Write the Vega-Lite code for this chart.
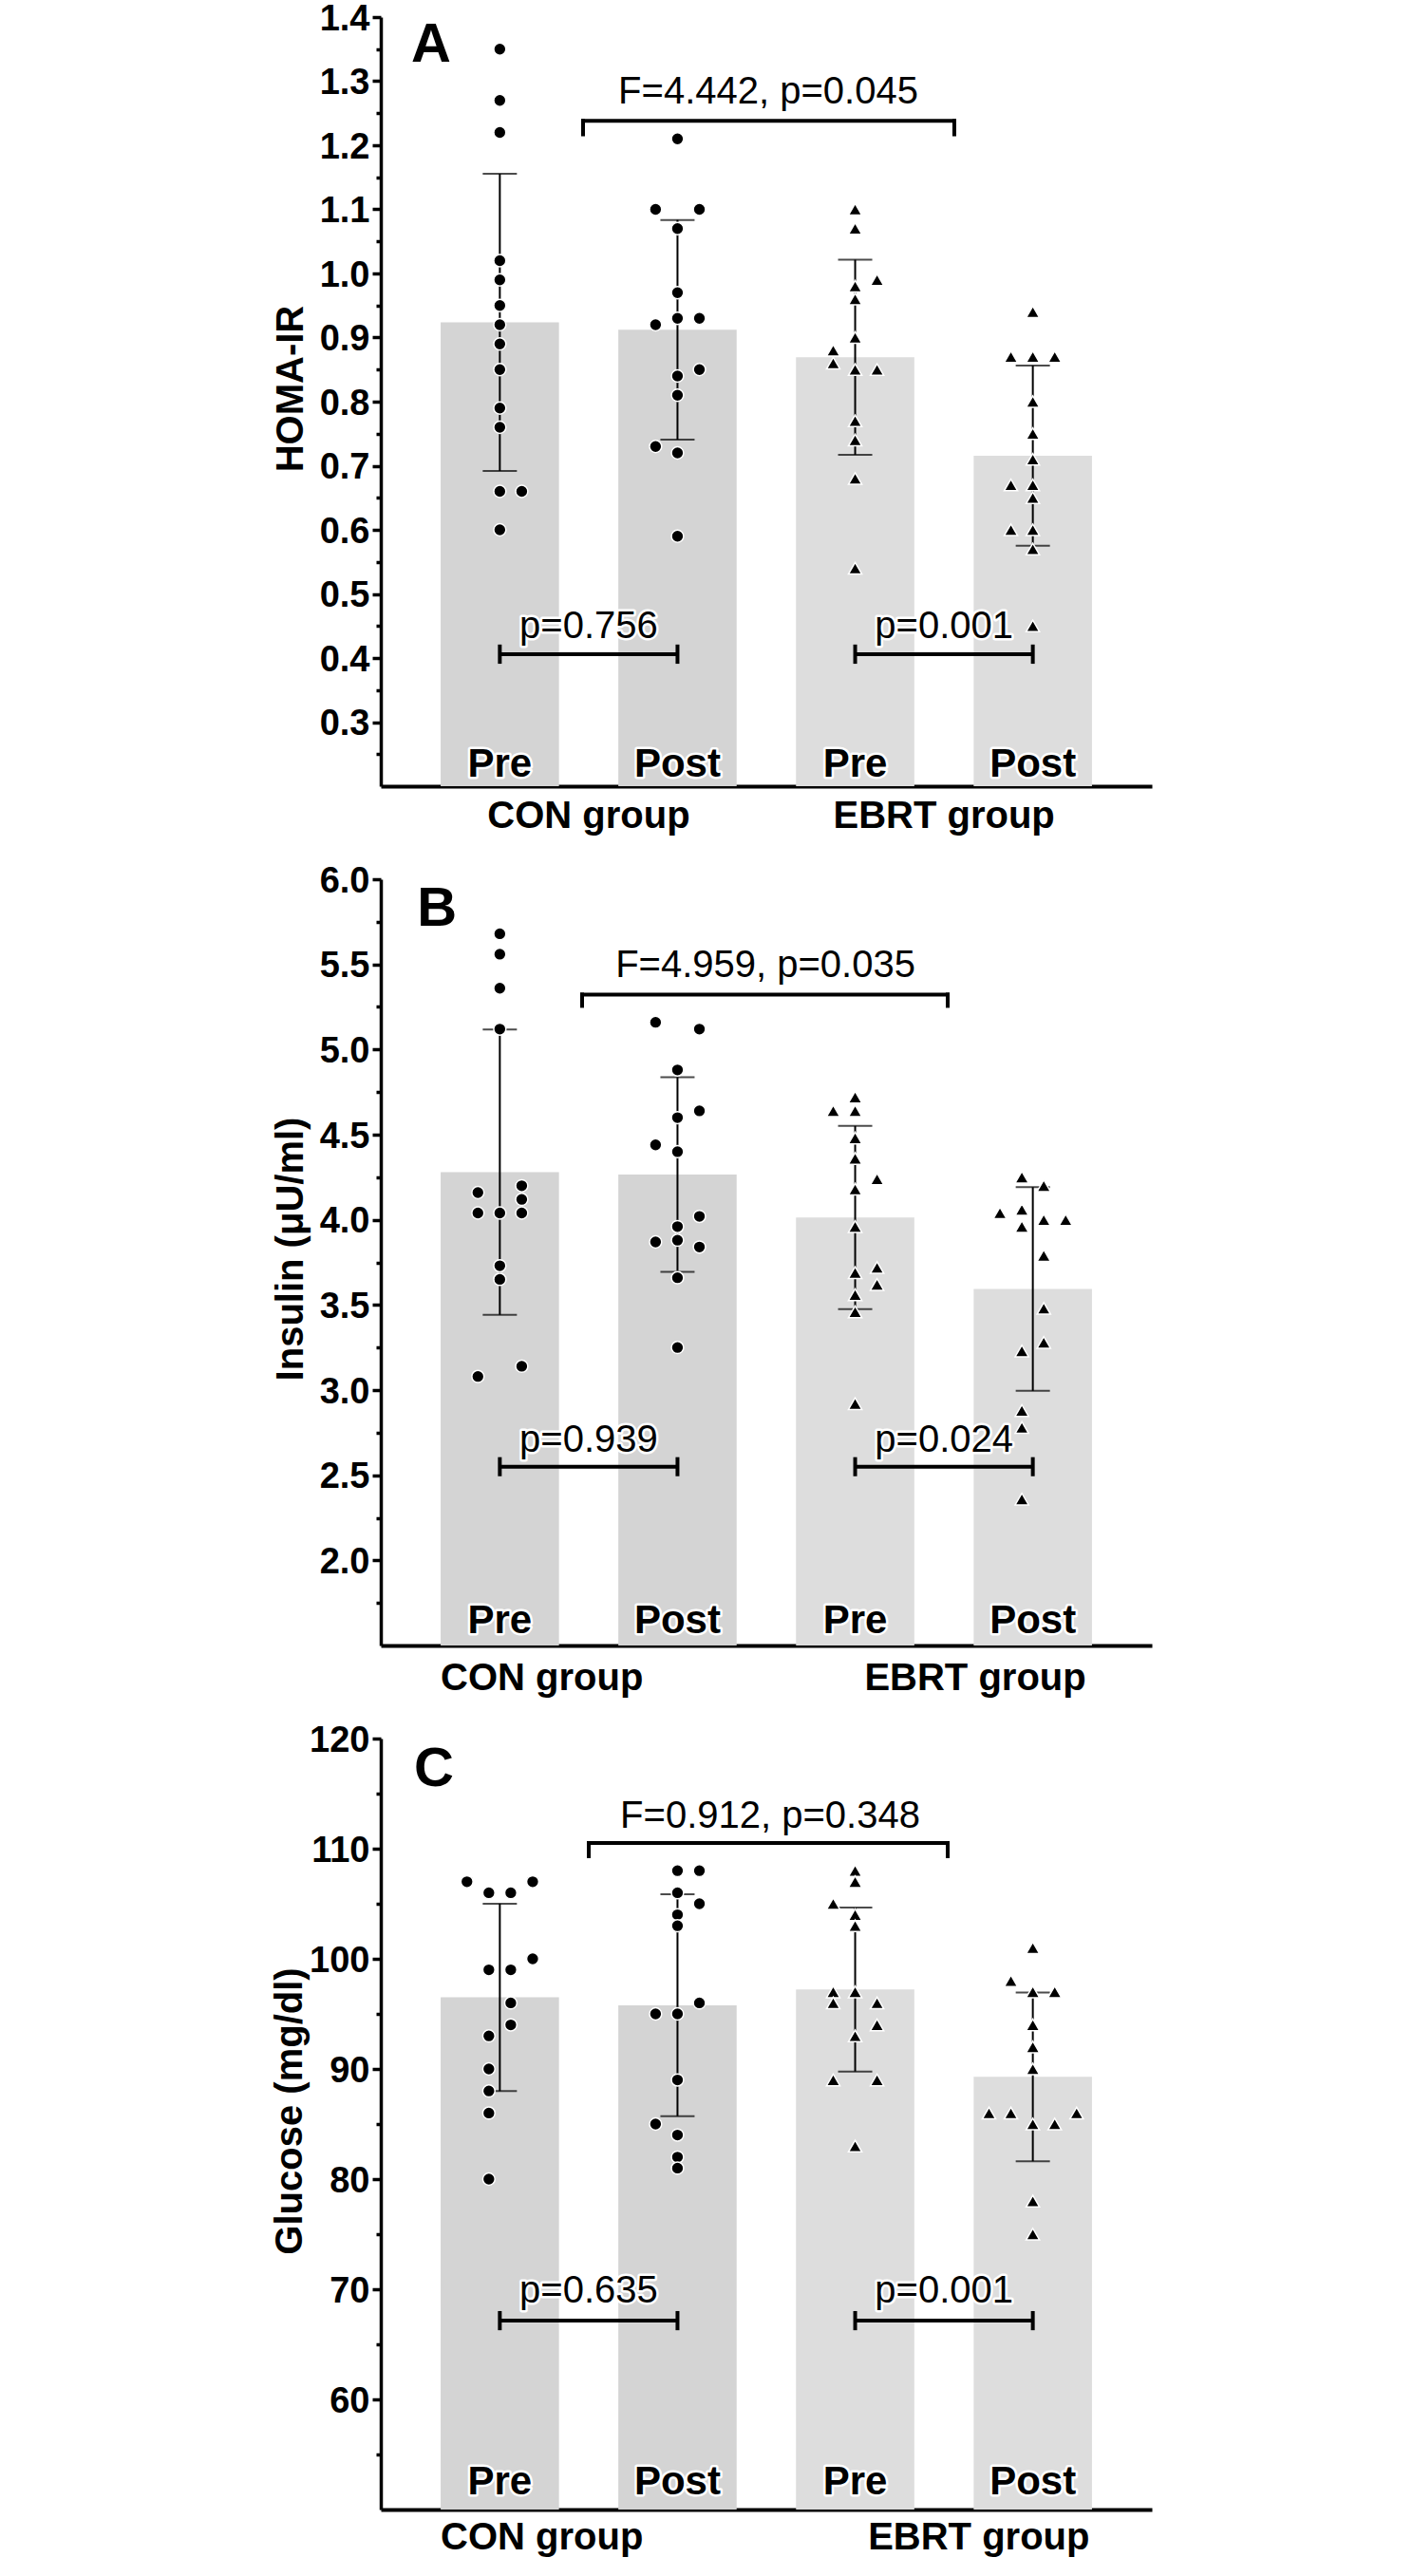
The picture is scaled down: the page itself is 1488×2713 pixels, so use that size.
{
  "$schema": "https://vega.github.io/schema/vega-lite/v6.json",
  "background": "white",
  "padding": {"left": 285, "top": 1, "right": 5, "bottom": 5},
  "config": {
    "font": "Liberation Sans",
    "view": {"stroke": null},
    "axis": {"grid": false, "domainColor": "black", "tickColor": "black", "labelColor": "black", "titleColor": "black",
      "labelFont": "Liberation Sans", "titleFont": "Liberation Sans", "labelFontSize": 38, "labelFontWeight": "bold",
      "titleFontSize": 40, "titleFontWeight": "bold", "tickWidth": 3.5, "domainWidth": 3.5, "labelPadding": 3,
      "titlePadding": 10, "labelOverlap": false, "tickCount": 60, "labelOffset": 2},
    "text": {"font": "Liberation Sans"}
  },
  "datasets": {
    "homa": [
      {"cond": "CON Pre", "v": 1.35, "lane": 0}, {"cond": "CON Pre", "v": 1.27, "lane": 0}, {"cond": "CON Pre", "v": 1.22, "lane": 0},
      {"cond": "CON Pre", "v": 1.02, "lane": 0}, {"cond": "CON Pre", "v": 0.99, "lane": 0}, {"cond": "CON Pre", "v": 0.95, "lane": 0},
      {"cond": "CON Pre", "v": 0.92, "lane": 0}, {"cond": "CON Pre", "v": 0.89, "lane": 0}, {"cond": "CON Pre", "v": 0.85, "lane": 0},
      {"cond": "CON Pre", "v": 0.79, "lane": 0}, {"cond": "CON Pre", "v": 0.76, "lane": 0}, {"cond": "CON Pre", "v": 0.66, "lane": 0},
      {"cond": "CON Pre", "v": 0.66, "lane": 1}, {"cond": "CON Pre", "v": 0.60, "lane": 0},
      {"cond": "CON Post", "v": 1.21, "lane": 0}, {"cond": "CON Post", "v": 1.10, "lane": -1}, {"cond": "CON Post", "v": 1.10, "lane": 1},
      {"cond": "CON Post", "v": 1.07, "lane": 0}, {"cond": "CON Post", "v": 0.97, "lane": 0}, {"cond": "CON Post", "v": 0.93, "lane": 0},
      {"cond": "CON Post", "v": 0.93, "lane": 1}, {"cond": "CON Post", "v": 0.92, "lane": -1}, {"cond": "CON Post", "v": 0.85, "lane": 1},
      {"cond": "CON Post", "v": 0.84, "lane": 0}, {"cond": "CON Post", "v": 0.81, "lane": 0}, {"cond": "CON Post", "v": 0.73, "lane": -1},
      {"cond": "CON Post", "v": 0.72, "lane": 0}, {"cond": "CON Post", "v": 0.59, "lane": 0},
      {"cond": "EBRT Pre", "v": 1.10, "lane": 0}, {"cond": "EBRT Pre", "v": 1.07, "lane": 0}, {"cond": "EBRT Pre", "v": 0.99, "lane": 1},
      {"cond": "EBRT Pre", "v": 0.98, "lane": 0}, {"cond": "EBRT Pre", "v": 0.96, "lane": 0}, {"cond": "EBRT Pre", "v": 0.90, "lane": 0},
      {"cond": "EBRT Pre", "v": 0.88, "lane": -1}, {"cond": "EBRT Pre", "v": 0.86, "lane": -1}, {"cond": "EBRT Pre", "v": 0.85, "lane": 0},
      {"cond": "EBRT Pre", "v": 0.85, "lane": 1}, {"cond": "EBRT Pre", "v": 0.77, "lane": 0}, {"cond": "EBRT Pre", "v": 0.74, "lane": 0},
      {"cond": "EBRT Pre", "v": 0.68, "lane": 0}, {"cond": "EBRT Pre", "v": 0.54, "lane": 0},
      {"cond": "EBRT Post", "v": 0.94, "lane": 0}, {"cond": "EBRT Post", "v": 0.87, "lane": -1}, {"cond": "EBRT Post", "v": 0.87, "lane": 0},
      {"cond": "EBRT Post", "v": 0.87, "lane": 1}, {"cond": "EBRT Post", "v": 0.80, "lane": 0}, {"cond": "EBRT Post", "v": 0.75, "lane": 0},
      {"cond": "EBRT Post", "v": 0.71, "lane": 0}, {"cond": "EBRT Post", "v": 0.67, "lane": -1}, {"cond": "EBRT Post", "v": 0.67, "lane": 0},
      {"cond": "EBRT Post", "v": 0.65, "lane": 0}, {"cond": "EBRT Post", "v": 0.60, "lane": -1}, {"cond": "EBRT Post", "v": 0.60, "lane": 0},
      {"cond": "EBRT Post", "v": 0.57, "lane": 0}, {"cond": "EBRT Post", "v": 0.45, "lane": 0}
    ],
    "ins": [
      {"cond": "CON Pre", "v": 5.68, "lane": 0}, {"cond": "CON Pre", "v": 5.56, "lane": 0}, {"cond": "CON Pre", "v": 5.36, "lane": 0},
      {"cond": "CON Pre", "v": 5.12, "lane": 0}, {"cond": "CON Pre", "v": 4.20, "lane": 1}, {"cond": "CON Pre", "v": 4.16, "lane": -1},
      {"cond": "CON Pre", "v": 4.12, "lane": 1}, {"cond": "CON Pre", "v": 4.04, "lane": -1}, {"cond": "CON Pre", "v": 4.04, "lane": 0},
      {"cond": "CON Pre", "v": 4.04, "lane": 1}, {"cond": "CON Pre", "v": 3.73, "lane": 0}, {"cond": "CON Pre", "v": 3.65, "lane": 0},
      {"cond": "CON Pre", "v": 3.14, "lane": 1}, {"cond": "CON Pre", "v": 3.08, "lane": -1},
      {"cond": "CON Post", "v": 5.16, "lane": -1}, {"cond": "CON Post", "v": 5.12, "lane": 1}, {"cond": "CON Post", "v": 4.88, "lane": 0},
      {"cond": "CON Post", "v": 4.64, "lane": 1}, {"cond": "CON Post", "v": 4.60, "lane": 0}, {"cond": "CON Post", "v": 4.44, "lane": -1},
      {"cond": "CON Post", "v": 4.40, "lane": 0}, {"cond": "CON Post", "v": 4.02, "lane": 1}, {"cond": "CON Post", "v": 3.96, "lane": 0},
      {"cond": "CON Post", "v": 3.87, "lane": -1}, {"cond": "CON Post", "v": 3.88, "lane": 0}, {"cond": "CON Post", "v": 3.84, "lane": 1},
      {"cond": "CON Post", "v": 3.66, "lane": 0}, {"cond": "CON Post", "v": 3.25, "lane": 0},
      {"cond": "EBRT Pre", "v": 4.72, "lane": 0}, {"cond": "EBRT Pre", "v": 4.64, "lane": -1}, {"cond": "EBRT Pre", "v": 4.64, "lane": 0},
      {"cond": "EBRT Pre", "v": 4.48, "lane": 0}, {"cond": "EBRT Pre", "v": 4.36, "lane": 0}, {"cond": "EBRT Pre", "v": 4.24, "lane": 1},
      {"cond": "EBRT Pre", "v": 4.18, "lane": 0}, {"cond": "EBRT Pre", "v": 3.96, "lane": 0}, {"cond": "EBRT Pre", "v": 3.72, "lane": 1},
      {"cond": "EBRT Pre", "v": 3.69, "lane": 0}, {"cond": "EBRT Pre", "v": 3.62, "lane": 1}, {"cond": "EBRT Pre", "v": 3.56, "lane": 0},
      {"cond": "EBRT Pre", "v": 3.46, "lane": 0}, {"cond": "EBRT Pre", "v": 2.92, "lane": 0},
      {"cond": "EBRT Post", "v": 4.25, "lane": -0.5}, {"cond": "EBRT Post", "v": 4.20, "lane": 0.5}, {"cond": "EBRT Post", "v": 4.04, "lane": -1.5},
      {"cond": "EBRT Post", "v": 4.06, "lane": -0.5}, {"cond": "EBRT Post", "v": 4.00, "lane": 0.5}, {"cond": "EBRT Post", "v": 4.00, "lane": 1.5},
      {"cond": "EBRT Post", "v": 3.96, "lane": -0.5}, {"cond": "EBRT Post", "v": 3.79, "lane": 0.5}, {"cond": "EBRT Post", "v": 3.48, "lane": 0.5},
      {"cond": "EBRT Post", "v": 3.23, "lane": -0.5}, {"cond": "EBRT Post", "v": 3.28, "lane": 0.5}, {"cond": "EBRT Post", "v": 2.88, "lane": -0.5},
      {"cond": "EBRT Post", "v": 2.78, "lane": -0.5}, {"cond": "EBRT Post", "v": 2.36, "lane": -0.5}
    ],
    "glu": [
      {"cond": "CON Pre", "v": 107, "lane": -1.5}, {"cond": "CON Pre", "v": 107, "lane": 1.5}, {"cond": "CON Pre", "v": 106, "lane": -0.5},
      {"cond": "CON Pre", "v": 106, "lane": 0.5}, {"cond": "CON Pre", "v": 100, "lane": 1.5}, {"cond": "CON Pre", "v": 99, "lane": -0.5},
      {"cond": "CON Pre", "v": 99, "lane": 0.5}, {"cond": "CON Pre", "v": 96, "lane": 0.5}, {"cond": "CON Pre", "v": 94, "lane": 0.5},
      {"cond": "CON Pre", "v": 93, "lane": -0.5}, {"cond": "CON Pre", "v": 90, "lane": -0.5}, {"cond": "CON Pre", "v": 88, "lane": -0.5},
      {"cond": "CON Pre", "v": 86, "lane": -0.5}, {"cond": "CON Pre", "v": 80, "lane": -0.5},
      {"cond": "CON Post", "v": 108, "lane": 0}, {"cond": "CON Post", "v": 108, "lane": 1}, {"cond": "CON Post", "v": 106, "lane": 0},
      {"cond": "CON Post", "v": 105, "lane": 1}, {"cond": "CON Post", "v": 104, "lane": 0}, {"cond": "CON Post", "v": 103, "lane": 0},
      {"cond": "CON Post", "v": 96, "lane": 1}, {"cond": "CON Post", "v": 95, "lane": -1}, {"cond": "CON Post", "v": 95, "lane": 0},
      {"cond": "CON Post", "v": 89, "lane": 0}, {"cond": "CON Post", "v": 85, "lane": -1}, {"cond": "CON Post", "v": 84, "lane": 0},
      {"cond": "CON Post", "v": 82, "lane": 0}, {"cond": "CON Post", "v": 81, "lane": 0},
      {"cond": "EBRT Pre", "v": 108, "lane": 0}, {"cond": "EBRT Pre", "v": 107, "lane": 0}, {"cond": "EBRT Pre", "v": 105, "lane": -1},
      {"cond": "EBRT Pre", "v": 104, "lane": 0}, {"cond": "EBRT Pre", "v": 103, "lane": 0}, {"cond": "EBRT Pre", "v": 97, "lane": -1},
      {"cond": "EBRT Pre", "v": 97, "lane": 0}, {"cond": "EBRT Pre", "v": 96, "lane": -1}, {"cond": "EBRT Pre", "v": 96, "lane": 1},
      {"cond": "EBRT Pre", "v": 94, "lane": 1}, {"cond": "EBRT Pre", "v": 93, "lane": 0}, {"cond": "EBRT Pre", "v": 89, "lane": -1},
      {"cond": "EBRT Pre", "v": 89, "lane": 1}, {"cond": "EBRT Pre", "v": 83, "lane": 0},
      {"cond": "EBRT Post", "v": 101, "lane": 0}, {"cond": "EBRT Post", "v": 98, "lane": -1}, {"cond": "EBRT Post", "v": 97, "lane": 0},
      {"cond": "EBRT Post", "v": 97, "lane": 1}, {"cond": "EBRT Post", "v": 94, "lane": 0}, {"cond": "EBRT Post", "v": 92, "lane": 0},
      {"cond": "EBRT Post", "v": 90, "lane": 0}, {"cond": "EBRT Post", "v": 86, "lane": -2}, {"cond": "EBRT Post", "v": 86, "lane": -1},
      {"cond": "EBRT Post", "v": 86, "lane": 2}, {"cond": "EBRT Post", "v": 85, "lane": 0}, {"cond": "EBRT Post", "v": 85, "lane": 1},
      {"cond": "EBRT Post", "v": 78, "lane": 0}, {"cond": "EBRT Post", "v": 75, "lane": 0}
    ],
    "pA": [{"a": "CON Pre", "b": "CON Post", "lab": "p=0.756"}, {"a": "EBRT Pre", "b": "EBRT Post", "lab": "p=0.001"}],
    "pB": [{"a": "CON Pre", "b": "CON Post", "lab": "p=0.939"}, {"a": "EBRT Pre", "b": "EBRT Post", "lab": "p=0.024"}],
    "pC": [{"a": "CON Pre", "b": "CON Post", "lab": "p=0.635"}, {"a": "EBRT Pre", "b": "EBRT Post", "lab": "p=0.001"}],
    "fA": [{"a": "CON Post", "b": "EBRT Pre", "lab": "F=4.442, p=0.045"}],
    "fB": [{"a": "CON Post", "b": "EBRT Pre", "lab": "F=4.959, p=0.035"}],
    "fC": [{"a": "CON Post", "b": "EBRT Pre", "lab": "F=0.912, p=0.348"}],
    "letters": [{"a": "CON Pre", "lab": "A"}, {"a": "CON Pre", "lab": "B"}, {"a": "CON Pre", "lab": "C"}],
    "groups": [{"a": "CON Pre", "b": "EBRT Post", "lab": "CON group", "g": "CON"}, {"a": "EBRT Pre", "b": "EBRT Post", "lab": "EBRT group", "g": "EBRT"}]
  },
  "spacing": 98,
  "bounds": "flush",
  "vconcat": [
    {
      "width": 812, "height": 810,
      "data": {"name": "homa"},
      "layer": [
        {"mark": {"type": "bar", "width": 124.6},
         "encoding": {
           "x": {"field": "cond", "type": "nominal", "scale": {"domain": ["CON Pre", "CON Post", "EBRT Pre", "EBRT Post"], "paddingInner": 0.334, "paddingOuter": 0.337}, "axis": {"labels": false, "ticks": false, "title": null, "domainWidth": 4}},
           "y": {"aggregate": "mean", "field": "v", "type": "quantitative", "title": "HOMA-IR", "scale": {"domain": [0.2, 1.4], "nice": false, "zero": false},
                 "axis": {"title": "HOMA-IR", "titleY": 391, "tickCount": 60, "values": [0.25, 0.3, 0.35, 0.4, 0.45, 0.5, 0.55, 0.6, 0.65, 0.7, 0.75, 0.8, 0.85, 0.9, 0.95, 1, 1.05, 1.1, 1.15, 1.2, 1.25, 1.3, 1.35, 1.4],
                   "labelExpr": "round(datum.value*20)%2==1 ? '' : format(datum.value,'.1f')",
                   "tickSize": {"condition": {"test": "round(datum.value*20)%2==1", "value": 5}, "value": 9}}},
           "fill": {"field": "cond", "type": "nominal", "scale": {"domain": ["CON Pre", "CON Post", "EBRT Pre", "EBRT Post"], "range": ["#d4d4d4", "#d4d4d4", "#dddddd", "#dddddd"]}, "legend": null}
         }},
        {"mark": {"type": "errorbar", "extent": "stdev", "color": "black", "thickness": 2, "size": 36, "ticks": true},
         "encoding": {"x": {"field": "cond", "type": "nominal"}, "y": {"field": "v", "type": "quantitative", "title": "HOMA-IR"}}},
        {"transform": [{"filter": "indexof(datum.cond,'CON')==0"}],
         "mark": {"type": "point", "shape": "circle", "filled": true, "fill": "black", "stroke": "white", "strokeWidth": 1.5, "size": 165, "opacity": 1},
         "encoding": {"x": {"field": "cond", "type": "nominal"}, "xOffset": {"field": "lane", "type": "quantitative", "scale": {"domain": [-2.7, 2.7]}}, "y": {"field": "v", "type": "quantitative", "title": "HOMA-IR"}}},
        {"transform": [{"filter": "indexof(datum.cond,'EBRT')==0"}],
         "mark": {"type": "point", "shape": "triangle-up", "filled": true, "fill": "black", "stroke": "white", "strokeWidth": 1.5, "size": 200, "opacity": 1},
         "encoding": {"x": {"field": "cond", "type": "nominal"}, "xOffset": {"field": "lane", "type": "quantitative", "scale": {"domain": [-2.7, 2.7]}}, "y": {"field": "v", "type": "quantitative", "title": "HOMA-IR"}}},
        {"transform": [{"aggregate": [{"op": "count", "as": "n"}], "groupby": ["cond"]}, {"calculate": "split(datum.cond,' ')[1]", "as": "t"}],
         "mark": {"type": "text", "fontSize": 42, "fontWeight": "bold", "baseline": "alphabetic", "dy": -10, "fill": "white", "stroke": "white", "strokeWidth": 5, "strokeJoin": "round"},
         "encoding": {"x": {"field": "cond", "type": "nominal"}, "y": {"datum": 0.2}, "text": {"field": "t"}}},
        {"transform": [{"aggregate": [{"op": "count", "as": "n"}], "groupby": ["cond"]}, {"calculate": "split(datum.cond,' ')[1]", "as": "t"}],
         "mark": {"type": "text", "fontSize": 42, "fontWeight": "bold", "baseline": "alphabetic", "dy": -10, "fill": "black"},
         "encoding": {"x": {"field": "cond", "type": "nominal"}, "y": {"datum": 0.2}, "text": {"field": "t"}}},
        {"data": {"name": "letters"}, "transform": [{"filter": "datum.lab=='A'"}],
         "mark": {"type": "text", "fontSize": 58, "fontWeight": "bold", "baseline": "alphabetic", "align": "left", "fill": "black"},
         "encoding": {"x": {"field": "a", "type": "nominal", "bandPosition": -0.25}, "y": {"datum": 1.33}, "text": {"field": "lab"}}},
        {"data": {"name": "groups"},
         "mark": {"type": "text", "fontSize": 40, "fontWeight": "bold", "baseline": "alphabetic", "dy": 44, "fill": "black"},
         "encoding": {"x": {"field": "a", "type": "nominal", "bandPosition": 1.251}, "y": {"datum": 0.2}, "text": {"field": "lab"}}},
        {"data": {"name": "pA"}, "mark": {"type": "rule", "strokeWidth": 4, "color": "black"},
         "encoding": {"x": {"field": "a", "type": "nominal"}, "x2": {"field": "b"}, "y": {"datum": 0.406}}},
        {"data": {"name": "pA"}, "mark": {"type": "rule", "strokeWidth": 4, "color": "black"},
         "encoding": {"x": {"field": "a", "type": "nominal"}, "y": {"datum": 0.391}, "y2": {"datum": 0.421}}},
        {"data": {"name": "pA"}, "mark": {"type": "rule", "strokeWidth": 4, "color": "black"},
         "encoding": {"x": {"field": "b", "type": "nominal"}, "y": {"datum": 0.391}, "y2": {"datum": 0.421}}},
        {"data": {"name": "pA"}, "mark": {"type": "text", "fontSize": 40, "baseline": "alphabetic", "dy": -17, "fill": "white", "stroke": "white", "strokeWidth": 5, "strokeJoin": "round"},
         "encoding": {"x": {"field": "a", "type": "nominal", "bandPosition": 1.251}, "y": {"datum": 0.406}, "text": {"field": "lab"}}},
        {"data": {"name": "pA"}, "mark": {"type": "text", "fontSize": 40, "baseline": "alphabetic", "dy": -17, "fill": "black"},
         "encoding": {"x": {"field": "a", "type": "nominal", "bandPosition": 1.251}, "y": {"datum": 0.406}, "text": {"field": "lab"}}},
        {"data": {"name": "fA"}, "mark": {"type": "rule", "strokeWidth": 4, "color": "black", "strokeCap": "square"},
         "encoding": {"x": {"field": "a", "type": "nominal", "bandPosition": -0.298}, "x2": {"field": "b", "bandPosition": 1.338}, "y": {"datum": 1.238}}},
        {"data": {"name": "fA"}, "mark": {"type": "rule", "strokeWidth": 4, "color": "black", "strokeCap": "square"},
         "encoding": {"x": {"field": "a", "type": "nominal", "bandPosition": -0.298}, "y": {"datum": 1.238}, "y2": {"datum": 1.217}}},
        {"data": {"name": "fA"}, "mark": {"type": "rule", "strokeWidth": 4, "color": "black", "strokeCap": "square"},
         "encoding": {"x": {"field": "b", "type": "nominal", "bandPosition": 1.338}, "y": {"datum": 1.238}, "y2": {"datum": 1.217}}},
        {"data": {"name": "fA"}, "mark": {"type": "text", "fontSize": 40, "baseline": "alphabetic", "dy": -18, "fill": "black"},
         "encoding": {"x": {"field": "a", "type": "nominal", "bandPosition": 1.267}, "y": {"datum": 1.238}, "text": {"field": "lab"}}}
      ]
    },
    {
      "width": 812, "height": 807,
      "data": {"name": "ins"},
      "layer": [
        {"mark": {"type": "bar", "width": 124.6},
         "encoding": {
           "x": {"field": "cond", "type": "nominal", "scale": {"domain": ["CON Pre", "CON Post", "EBRT Pre", "EBRT Post"], "paddingInner": 0.334, "paddingOuter": 0.337}, "axis": {"labels": false, "ticks": false, "title": null, "domainWidth": 4}},
           "y": {"aggregate": "mean", "field": "v", "type": "quantitative", "title": "Insulin (μU/ml)", "scale": {"domain": [1.5, 6.0], "nice": false, "zero": false},
                 "axis": {"title": "Insulin (μU/ml)", "titleY": 389, "tickCount": 60, "values": [1.75, 2, 2.25, 2.5, 2.75, 3, 3.25, 3.5, 3.75, 4, 4.25, 4.5, 4.75, 5, 5.25, 5.5, 5.75, 6],
                   "labelExpr": "round(datum.value*4)%2==1 ? '' : format(datum.value,'.1f')",
                   "tickSize": {"condition": {"test": "round(datum.value*4)%2==1", "value": 5}, "value": 9}}},
           "fill": {"field": "cond", "type": "nominal", "scale": {"domain": ["CON Pre", "CON Post", "EBRT Pre", "EBRT Post"], "range": ["#d4d4d4", "#d4d4d4", "#dddddd", "#dddddd"]}, "legend": null}
         }},
        {"mark": {"type": "errorbar", "extent": "stdev", "color": "black", "thickness": 2, "size": 36, "ticks": true},
         "encoding": {"x": {"field": "cond", "type": "nominal"}, "y": {"field": "v", "type": "quantitative", "title": "Insulin (μU/ml)"}}},
        {"transform": [{"filter": "indexof(datum.cond,'CON')==0"}],
         "mark": {"type": "point", "shape": "circle", "filled": true, "fill": "black", "stroke": "white", "strokeWidth": 1.5, "size": 165, "opacity": 1},
         "encoding": {"x": {"field": "cond", "type": "nominal"}, "xOffset": {"field": "lane", "type": "quantitative", "scale": {"domain": [-2.7, 2.7]}}, "y": {"field": "v", "type": "quantitative", "title": "Insulin (μU/ml)"}}},
        {"transform": [{"filter": "indexof(datum.cond,'EBRT')==0"}],
         "mark": {"type": "point", "shape": "triangle-up", "filled": true, "fill": "black", "stroke": "white", "strokeWidth": 1.5, "size": 200, "opacity": 1},
         "encoding": {"x": {"field": "cond", "type": "nominal"}, "xOffset": {"field": "lane", "type": "quantitative", "scale": {"domain": [-2.7, 2.7]}}, "y": {"field": "v", "type": "quantitative", "title": "Insulin (μU/ml)"}}},
        {"transform": [{"aggregate": [{"op": "count", "as": "n"}], "groupby": ["cond"]}, {"calculate": "split(datum.cond,' ')[1]", "as": "t"}],
         "mark": {"type": "text", "fontSize": 42, "fontWeight": "bold", "baseline": "alphabetic", "dy": -13, "fill": "white", "stroke": "white", "strokeWidth": 5, "strokeJoin": "round"},
         "encoding": {"x": {"field": "cond", "type": "nominal"}, "y": {"datum": 1.5}, "text": {"field": "t"}}},
        {"transform": [{"aggregate": [{"op": "count", "as": "n"}], "groupby": ["cond"]}, {"calculate": "split(datum.cond,' ')[1]", "as": "t"}],
         "mark": {"type": "text", "fontSize": 42, "fontWeight": "bold", "baseline": "alphabetic", "dy": -13, "fill": "black"},
         "encoding": {"x": {"field": "cond", "type": "nominal"}, "y": {"datum": 1.5}, "text": {"field": "t"}}},
        {"data": {"name": "letters"}, "transform": [{"filter": "datum.lab=='B'"}],
         "mark": {"type": "text", "fontSize": 58, "fontWeight": "bold", "baseline": "alphabetic", "align": "left", "fill": "black"},
         "encoding": {"x": {"field": "a", "type": "nominal", "bandPosition": -0.2}, "y": {"datum": 5.727}, "text": {"field": "lab"}}},
        {"data": {"name": "groups"}, "transform": [{"filter": "datum.g=='CON'"}],
         "mark": {"type": "text", "fontSize": 40, "fontWeight": "bold", "baseline": "alphabetic", "align": "left", "dy": 47, "fill": "black"},
         "encoding": {"x": {"field": "a", "type": "nominal", "bandPosition": 0}, "y": {"datum": 1.5}, "text": {"field": "lab"}}},
        {"data": {"name": "groups"}, "transform": [{"filter": "datum.g=='EBRT'"}],
         "mark": {"type": "text", "fontSize": 40, "fontWeight": "bold", "baseline": "alphabetic", "align": "right", "dy": 47, "fill": "black"},
         "encoding": {"x": {"field": "b", "type": "nominal", "bandPosition": 0.95}, "y": {"datum": 1.5}, "text": {"field": "lab"}}},
        {"data": {"name": "pB"}, "mark": {"type": "rule", "strokeWidth": 4, "color": "black"},
         "encoding": {"x": {"field": "a", "type": "nominal"}, "x2": {"field": "b"}, "y": {"datum": 2.55}}},
        {"data": {"name": "pB"}, "mark": {"type": "rule", "strokeWidth": 4, "color": "black"},
         "encoding": {"x": {"field": "a", "type": "nominal"}, "y": {"datum": 2.494}, "y2": {"datum": 2.606}}},
        {"data": {"name": "pB"}, "mark": {"type": "rule", "strokeWidth": 4, "color": "black"},
         "encoding": {"x": {"field": "b", "type": "nominal"}, "y": {"datum": 2.494}, "y2": {"datum": 2.606}}},
        {"data": {"name": "pB"}, "mark": {"type": "text", "fontSize": 40, "baseline": "alphabetic", "dy": -16, "fill": "white", "stroke": "white", "strokeWidth": 5, "strokeJoin": "round"},
         "encoding": {"x": {"field": "a", "type": "nominal", "bandPosition": 1.251}, "y": {"datum": 2.55}, "text": {"field": "lab"}}},
        {"data": {"name": "pB"}, "mark": {"type": "text", "fontSize": 40, "baseline": "alphabetic", "dy": -16, "fill": "black"},
         "encoding": {"x": {"field": "a", "type": "nominal", "bandPosition": 1.251}, "y": {"datum": 2.55}, "text": {"field": "lab"}}},
        {"data": {"name": "fB"}, "mark": {"type": "rule", "strokeWidth": 4, "color": "black", "strokeCap": "square"},
         "encoding": {"x": {"field": "a", "type": "nominal", "bandPosition": -0.306}, "x2": {"field": "b", "bandPosition": 1.282}, "y": {"datum": 5.323}}},
        {"data": {"name": "fB"}, "mark": {"type": "rule", "strokeWidth": 4, "color": "black", "strokeCap": "square"},
         "encoding": {"x": {"field": "a", "type": "nominal", "bandPosition": -0.306}, "y": {"datum": 5.323}, "y2": {"datum": 5.256}}},
        {"data": {"name": "fB"}, "mark": {"type": "rule", "strokeWidth": 4, "color": "black", "strokeCap": "square"},
         "encoding": {"x": {"field": "b", "type": "nominal", "bandPosition": 1.282}, "y": {"datum": 5.323}, "y2": {"datum": 5.256}}},
        {"data": {"name": "fB"}, "mark": {"type": "text", "fontSize": 40, "baseline": "alphabetic", "dy": -18, "fill": "black"},
         "encoding": {"x": {"field": "a", "type": "nominal", "bandPosition": 1.243}, "y": {"datum": 5.323}, "text": {"field": "lab"}}}
      ]
    },
    {
      "width": 812, "height": 812,
      "data": {"name": "glu"},
      "layer": [
        {"mark": {"type": "bar", "width": 124.6},
         "encoding": {
           "x": {"field": "cond", "type": "nominal", "scale": {"domain": ["CON Pre", "CON Post", "EBRT Pre", "EBRT Post"], "paddingInner": 0.334, "paddingOuter": 0.337}, "axis": {"labels": false, "ticks": false, "title": null, "domainWidth": 4}},
           "y": {"aggregate": "mean", "field": "v", "type": "quantitative", "title": "Glucose (mg/dl)", "scale": {"domain": [50, 120], "nice": false, "zero": false},
                 "axis": {"title": "Glucose (mg/dl)", "titleY": 392, "titlePadding": 0, "tickCount": 60, "values": [55, 60, 65, 70, 75, 80, 85, 90, 95, 100, 105, 110, 115, 120],
                   "labelExpr": "round(datum.value/5)%2==1 ? '' : format(datum.value,'d')",
                   "tickSize": {"condition": {"test": "round(datum.value/5)%2==1", "value": 5}, "value": 9}}},
           "fill": {"field": "cond", "type": "nominal", "scale": {"domain": ["CON Pre", "CON Post", "EBRT Pre", "EBRT Post"], "range": ["#d4d4d4", "#d4d4d4", "#dddddd", "#dddddd"]}, "legend": null}
         }},
        {"mark": {"type": "errorbar", "extent": "stdev", "color": "black", "thickness": 2, "size": 36, "ticks": true},
         "encoding": {"x": {"field": "cond", "type": "nominal"}, "y": {"field": "v", "type": "quantitative", "title": "Glucose (mg/dl)"}}},
        {"transform": [{"filter": "indexof(datum.cond,'CON')==0"}],
         "mark": {"type": "point", "shape": "circle", "filled": true, "fill": "black", "stroke": "white", "strokeWidth": 1.5, "size": 165, "opacity": 1},
         "encoding": {"x": {"field": "cond", "type": "nominal"}, "xOffset": {"field": "lane", "type": "quantitative", "scale": {"domain": [-2.7, 2.7]}}, "y": {"field": "v", "type": "quantitative", "title": "Glucose (mg/dl)"}}},
        {"transform": [{"filter": "indexof(datum.cond,'EBRT')==0"}],
         "mark": {"type": "point", "shape": "triangle-up", "filled": true, "fill": "black", "stroke": "white", "strokeWidth": 1.5, "size": 200, "opacity": 1},
         "encoding": {"x": {"field": "cond", "type": "nominal"}, "xOffset": {"field": "lane", "type": "quantitative", "scale": {"domain": [-2.7, 2.7]}}, "y": {"field": "v", "type": "quantitative", "title": "Glucose (mg/dl)"}}},
        {"transform": [{"aggregate": [{"op": "count", "as": "n"}], "groupby": ["cond"]}, {"calculate": "split(datum.cond,' ')[1]", "as": "t"}],
         "mark": {"type": "text", "fontSize": 42, "fontWeight": "bold", "baseline": "alphabetic", "dy": -16, "fill": "white", "stroke": "white", "strokeWidth": 5, "strokeJoin": "round"},
         "encoding": {"x": {"field": "cond", "type": "nominal"}, "y": {"datum": 50}, "text": {"field": "t"}}},
        {"transform": [{"aggregate": [{"op": "count", "as": "n"}], "groupby": ["cond"]}, {"calculate": "split(datum.cond,' ')[1]", "as": "t"}],
         "mark": {"type": "text", "fontSize": 42, "fontWeight": "bold", "baseline": "alphabetic", "dy": -16, "fill": "black"},
         "encoding": {"x": {"field": "cond", "type": "nominal"}, "y": {"datum": 50}, "text": {"field": "t"}}},
        {"data": {"name": "letters"}, "transform": [{"filter": "datum.lab=='C'"}],
         "mark": {"type": "text", "fontSize": 58, "fontWeight": "bold", "baseline": "alphabetic", "align": "left", "fill": "black"},
         "encoding": {"x": {"field": "a", "type": "nominal", "bandPosition": -0.225}, "y": {"datum": 115.7}, "text": {"field": "lab"}}},
        {"data": {"name": "groups"}, "transform": [{"filter": "datum.g=='CON'"}],
         "mark": {"type": "text", "fontSize": 40, "fontWeight": "bold", "baseline": "alphabetic", "align": "left", "dy": 42, "fill": "black"},
         "encoding": {"x": {"field": "a", "type": "nominal", "bandPosition": 0}, "y": {"datum": 50}, "text": {"field": "lab"}}},
        {"data": {"name": "groups"}, "transform": [{"filter": "datum.g=='EBRT'"}],
         "mark": {"type": "text", "fontSize": 40, "fontWeight": "bold", "baseline": "alphabetic", "align": "right", "dy": 42, "fill": "black"},
         "encoding": {"x": {"field": "b", "type": "nominal", "bandPosition": 0.98}, "y": {"datum": 50}, "text": {"field": "lab"}}},
        {"data": {"name": "pC"}, "mark": {"type": "rule", "strokeWidth": 4, "color": "black"},
         "encoding": {"x": {"field": "a", "type": "nominal"}, "x2": {"field": "b"}, "y": {"datum": 67.15}}},
        {"data": {"name": "pC"}, "mark": {"type": "rule", "strokeWidth": 4, "color": "black"},
         "encoding": {"x": {"field": "a", "type": "nominal"}, "y": {"datum": 66.28}, "y2": {"datum": 68.02}}},
        {"data": {"name": "pC"}, "mark": {"type": "rule", "strokeWidth": 4, "color": "black"},
         "encoding": {"x": {"field": "b", "type": "nominal"}, "y": {"datum": 66.28}, "y2": {"datum": 68.02}}},
        {"data": {"name": "pC"}, "mark": {"type": "text", "fontSize": 40, "baseline": "alphabetic", "dy": -19, "fill": "white", "stroke": "white", "strokeWidth": 5, "strokeJoin": "round"},
         "encoding": {"x": {"field": "a", "type": "nominal", "bandPosition": 1.251}, "y": {"datum": 67.15}, "text": {"field": "lab"}}},
        {"data": {"name": "pC"}, "mark": {"type": "text", "fontSize": 40, "baseline": "alphabetic", "dy": -19, "fill": "black"},
         "encoding": {"x": {"field": "a", "type": "nominal", "bandPosition": 1.251}, "y": {"datum": 67.15}, "text": {"field": "lab"}}},
        {"data": {"name": "fC"}, "mark": {"type": "rule", "strokeWidth": 4, "color": "black", "strokeCap": "square"},
         "encoding": {"x": {"field": "a", "type": "nominal", "bandPosition": -0.25}, "x2": {"field": "b", "bandPosition": 1.282}, "y": {"datum": 110.52}}},
        {"data": {"name": "fC"}, "mark": {"type": "rule", "strokeWidth": 4, "color": "black", "strokeCap": "square"},
         "encoding": {"x": {"field": "a", "type": "nominal", "bandPosition": -0.25}, "y": {"datum": 110.52}, "y2": {"datum": 109.31}}},
        {"data": {"name": "fC"}, "mark": {"type": "rule", "strokeWidth": 4, "color": "black", "strokeCap": "square"},
         "encoding": {"x": {"field": "b", "type": "nominal", "bandPosition": 1.282}, "y": {"datum": 110.52}, "y2": {"datum": 109.31}}},
        {"data": {"name": "fC"}, "mark": {"type": "text", "fontSize": 40, "baseline": "alphabetic", "dy": -16, "fill": "black"},
         "encoding": {"x": {"field": "a", "type": "nominal", "bandPosition": 1.283}, "y": {"datum": 110.52}, "text": {"field": "lab"}}}
      ]
    }
  ]
}
